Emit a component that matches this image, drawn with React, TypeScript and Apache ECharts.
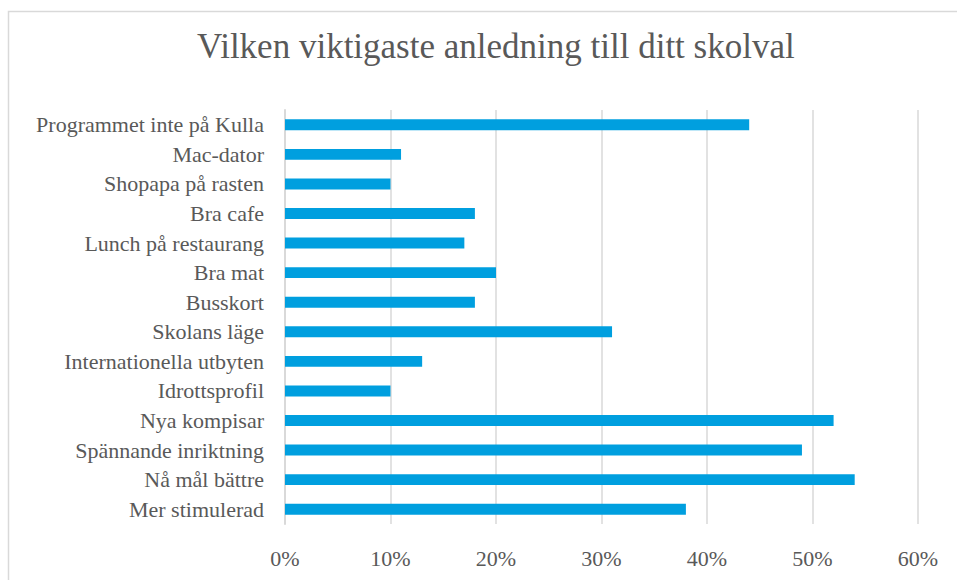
import React, { useEffect, useRef } from "react";
import * as echarts from "echarts";

const TITLE = "Vilken viktigaste anledning till ditt skolval";
const categories = [
  "Programmet inte på Kulla",
  "Mac-dator",
  "Shopapa på rasten",
  "Bra cafe",
  "Lunch på restaurang",
  "Bra mat",
  "Busskort",
  "Skolans läge",
  "Internationella utbyten",
  "Idrottsprofil",
  "Nya kompisar",
  "Spännande inriktning",
  "Nå mål bättre",
  "Mer stimulerad",
];
const values = [0.44, 0.11, 0.10, 0.18, 0.17, 0.20, 0.18, 0.31, 0.13, 0.10, 0.52, 0.49, 0.54, 0.38];
const xMin = 0;
const xMax = 0.6;
const xStep = 0.1;

const FONT = "'Liberation Serif', 'DejaVu Serif', serif";

export default function App() {
  const ref = useRef<HTMLDivElement>(null);
  useEffect(() => {
    if (!ref.current) return;
    const chart = echarts.init(ref.current, null, { renderer: "svg" });
    chart.setOption({
      animation: false,
      backgroundColor: "#ffffff",
      title: {
        text: TITLE,
        left: 192,
        top: 24,
        textStyle: { fontFamily: FONT, fontSize: 35, fontWeight: "normal", color: "#595959" },
      },
      graphic: [
        {
          type: "rect",
          shape: { x: 8.5, y: 11.5, width: 1000, height: 1000 },
          style: { fill: "none", stroke: "#d9d9d9", lineWidth: 1.5 },
          silent: true,
        },
      ],
      grid: { left: 285, right: 39, top: 110, bottom: 56, containLabel: false },
      xAxis: {
        type: "value",
        min: xMin,
        max: xMax,
        interval: xStep,
        axisLine: { show: false },
        axisTick: { show: false },
        splitLine: { show: true, lineStyle: { color: "#d9d9d9", width: 1.5 } },
        axisLabel: {
          margin: 23,
          fontFamily: FONT,
          fontSize: 22,
          color: "#595959",
          formatter: (v: number) => Math.round(v * 100) + "%",
        },
      },
      yAxis: {
        type: "category",
        data: categories,
        inverse: true,
        axisLine: { show: true, lineStyle: { color: "#d9d9d9", width: 2 } },
        axisTick: { show: false },
        axisLabel: { margin: 21, fontFamily: FONT, fontSize: 22, color: "#595959" },
      },
      series: [
        {
          type: "bar",
          data: values,
          barWidth: "37%",
          itemStyle: { color: "#009fdf" },
        },
      ],
    });
    return () => chart.dispose();
  }, []);
  return (
    <div
      ref={ref}
      style={{ position: "absolute", left: 0, top: 0, width: 957, height: 580 }}
    />
  );
}
